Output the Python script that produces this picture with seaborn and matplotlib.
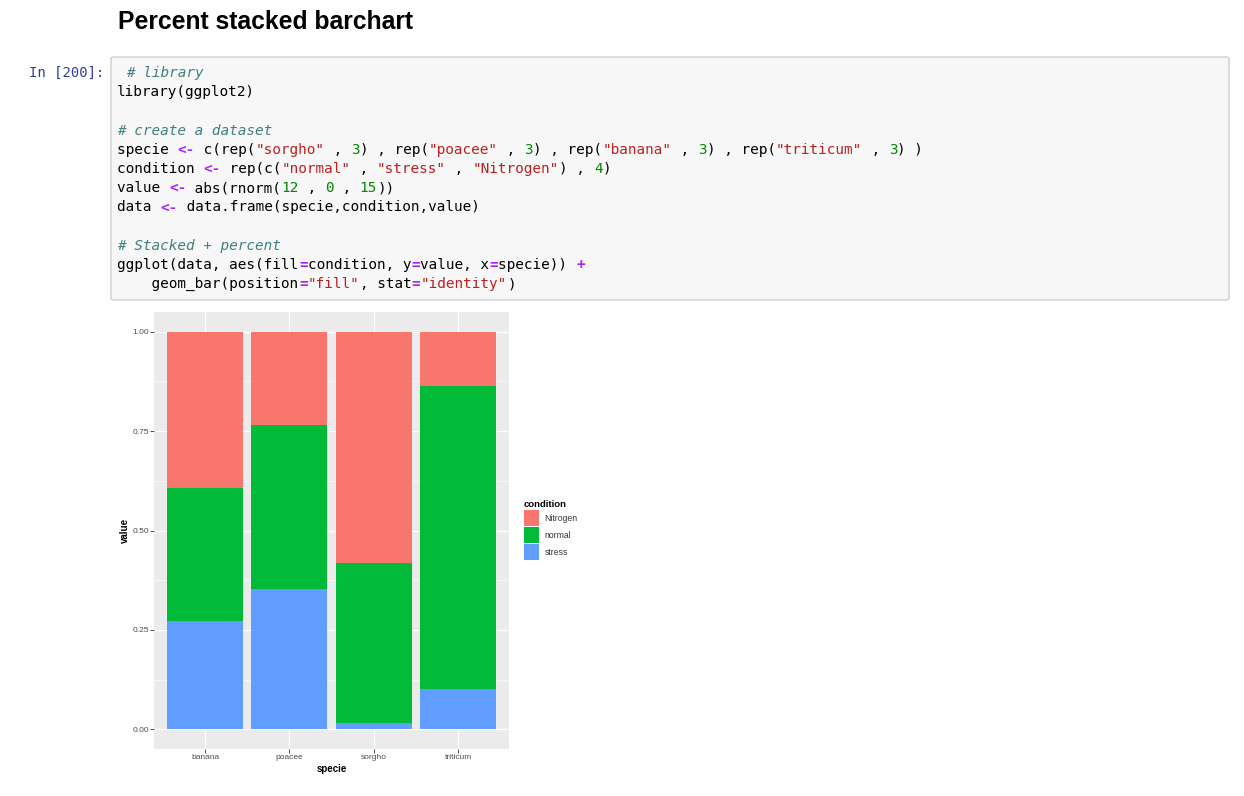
import re
import numpy as np
import pandas as pd
import seaborn as sns
import matplotlib.pyplot as plt
from matplotlib.patches import Patch, FancyBboxPatch

# values (proportions per specie)
species = ["banana", "poacee", "sorgho", "triticum"]
conditions = ["Nitrogen", "normal", "stress"]
nitrogen = [0.392, 0.236, 0.581, 0.138]
normal = [0.335, 0.412, 0.402, 0.760]
stress = [0.273, 0.352, 0.017, 0.102]
colors = ["#F8766D", "#00BA38", "#619CFF"]
yticks = [0.0, 0.25, 0.5, 0.75, 1.0]

code_lines = [
    ' # library',
    'library(ggplot2)',
    '',
    '# create a dataset',
    'specie <- c(rep("sorgho" , 3) , rep("poacee" , 3) , rep("banana" , 3) , rep("triticum" , 3) )',
    'condition <- rep(c("normal" , "stress" , "Nitrogen") , 4)',
    'value <- abs(rnorm(12 , 0 , 15))',
    'data <- data.frame(specie,condition,value)',
    '',
    '# Stacked + percent',
    'ggplot(data, aes(fill=condition, y=value, x=specie)) +',
    '    geom_bar(position="fill", stat="identity")',
]

df = pd.DataFrame({
    "specie": species * 3,
    "condition": [c for c in conditions for _ in species],
    "value": nitrogen + normal + stress,
})

W, H = 1244, 796
plt.rcParams["font.family"] = ["Liberation Sans", "DejaVu Sans"]
fig = plt.figure(figsize=(W / 100, H / 100), dpi=100)
fig.patch.set_facecolor("white")


def fx(px):
    return px / W


def fy(py):
    return 1 - py / H


# notebook heading
fig.text(fx(118), fy(22), "Percent stacked barchart", fontsize=17.8,
         fontweight="bold", va="center", ha="left", color="black")

# code cell
box = FancyBboxPatch((fx(111), fy(300)), fx(1229) - fx(111), fy(57) - fy(300),
                     boxstyle="round,pad=0,rounding_size=0.002",
                     transform=fig.transFigure, facecolor="#f7f7f7",
                     edgecolor="#cfcfcf", lw=1)
fig.patches.append(box)
fig.text(fx(104), fy(73), "In [200]:", fontsize=10.0, family="DejaVu Sans Mono",
         color="#303F9F", ha="right", va="center")

styles = {
    "n": dict(color="black"),
    "c": dict(color="#408080", style="italic"),
    "s": dict(color="#BA2121"),
    "d": dict(color="#008800"),
    "o": dict(color="#AA22FF", fontweight="bold"),
}
token_re = re.compile(r'(#.*)|("[^"]*")|(\b\d+\b)|(<-|=|\+)')
cw = 8.67
for i, line in enumerate(code_lines):
    y = fy(73 + 19.2 * i)
    pos = 0
    toks = []
    for m in token_re.finditer(line):
        if m.start() > pos:
            toks.append((pos, line[pos:m.start()], "n"))
        kind = "c" if m.group(1) else "s" if m.group(2) else "d" if m.group(3) else "o"
        toks.append((m.start(), m.group(0), kind))
        pos = m.end()
    if pos < len(line):
        toks.append((pos, line[pos:], "n"))
    for start, txt, kind in toks:
        fig.text(fx(117 + cw * start), y, txt, fontsize=10.37,
                 family="DejaVu Sans Mono", ha="left", va="center", **styles[kind])

# ggplot-like chart
left, right, top, bottom = 154.3, 509.0, 311.7, 749.3
ax = fig.add_axes([fx(left), fy(bottom), fx(right) - fx(left), fy(top) - fy(bottom)])
ax.set_facecolor("#EBEBEB")
sns.histplot(data=df, x="specie", hue="condition", weights="value",
             multiple="fill", hue_order=conditions, palette=colors,
             discrete=True, shrink=0.9, linewidth=0, alpha=1,
             legend=False, ax=ax)

ax.set_xlim(-0.6, 3.6)
ax.set_ylim(-0.05, 1.05)
ax.set_xticks(range(len(species)))
ax.set_xticklabels(species)
ax.set_yticks(yticks)
ax.set_yticklabels([f"{t:.2f}" for t in yticks])
ax.set_yticks([0.125, 0.375, 0.625, 0.875], minor=True)
ax.grid(which="major", color="white", lw=0.8)
ax.grid(which="minor", axis="y", color="white", lw=0.4)
ax.set_axisbelow(True)
for s in ax.spines.values():
    s.set_visible(False)
ax.tick_params(which="major", length=2.6, width=0.6, color="#333333",
               labelsize=6.0, labelcolor="#4D4D4D", pad=1)
ax.tick_params(which="minor", length=0)
ax.set_xlabel("specie", fontsize=7, fontweight="bold", labelpad=2)
ax.set_ylabel("value", fontsize=7, fontweight="bold", labelpad=2)

handles = [Patch(facecolor=c, edgecolor="none") for c in colors]
leg = fig.legend(handles, conditions, title="condition", loc="upper left",
                 bbox_to_anchor=(fx(524), fy(500)), frameon=False,
                 fontsize=6.2, title_fontproperties={"size": 6.8, "weight": "bold"},
                 handlelength=1.75, handleheight=2.4, labelspacing=0.16,
                 handletextpad=0.65, borderpad=0, borderaxespad=0,
                 alignment="left")
for t in leg.get_texts():
    t.set_color("#333333")

fig.savefig("out.png", dpi=100)
